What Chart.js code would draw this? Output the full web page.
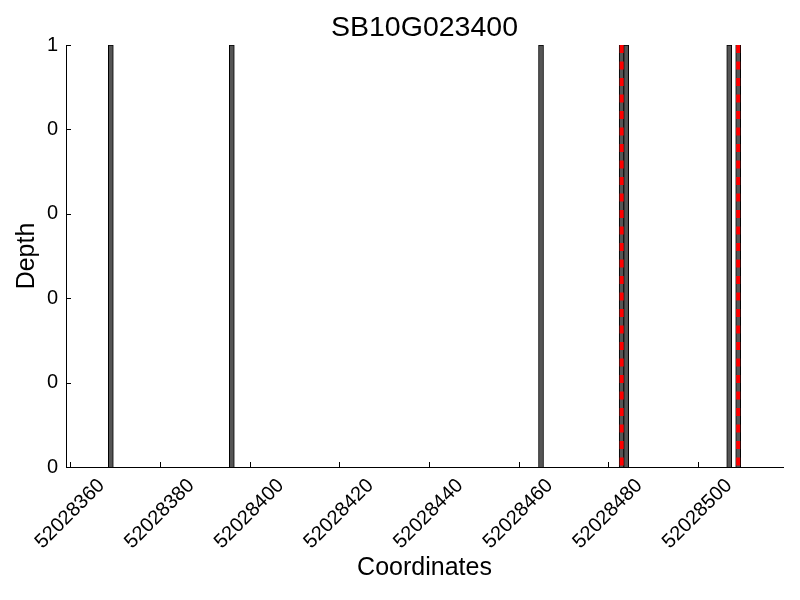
<!DOCTYPE html>
<html lang="en">
<head>
    <meta charset="UTF-8">
    <title>SB10G023400</title>
    <script src="https://cdn.jsdelivr.net/npm/chart.js"></script>
    <style>
        html, body { margin: 0; padding: 0; background: #fff; overflow: hidden; }
    </style>
</head>
<body>
    <canvas id="myChart" width="800" height="600"></canvas>
<script>
    // dados
    const coordenadas = [52028369, 52028396, 52028465, 52028483, 52028484, 52028507, 52028509];
    const profundidade = [1, 1, 1, 1, 1, 1, 1];
    const destacadas = [52028483, 52028509];

    const xTicks = [52028360, 52028380, 52028400, 52028420, 52028440, 52028460, 52028480, 52028500];
    const xTickLabels = ['52028360', '52028380', '52028400', '52028420', '52028440', '52028460', '52028480', '52028500'];
    const yTicks = [0, 0.2, 0.4, 0.6, 0.8, 1];
    const yTickLabels = ['0', '0', '0', '0', '0', '1'];

    const titulo = 'SB10G023400';
    const fonte = 'Liberation Sans, Arial, sans-serif';

    // pontos da linha tracejada vermelha (quebra com null entre cada uma)
    var linhas = [];
    for (var i = 0; i < destacadas.length; i++) {
        linhas.push({ x: destacadas[i], y: 1 });
        linhas.push({ x: destacadas[i], y: 0 });
        linhas.push({ x: destacadas[i], y: null });
    }

    // ticks para dentro e titulo centrado sobre a area do grafico
    const ticksDentro = {
        id: 'ticksDentro',
        afterDraw(chart) {
            const ctx = chart.ctx;
            const xs = chart.scales.x;
            const ys = chart.scales.y;
            const area = chart.chartArea;
            ctx.save();
            ctx.strokeStyle = '#000';
            ctx.lineWidth = 1;
            ctx.beginPath();
            xTicks.forEach(function (v) {
                var px = Math.round(xs.getPixelForValue(v)) + 0.5;
                ctx.moveTo(px, area.bottom);
                ctx.lineTo(px, area.bottom - 5);
            });
            yTicks.forEach(function (v) {
                var py = Math.round(ys.getPixelForValue(v)) + 0.5;
                ctx.moveTo(area.left, py);
                ctx.lineTo(area.left + 5, py);
            });
            ctx.stroke();

            ctx.fillStyle = '#000';
            ctx.font = '28.5px ' + fonte;
            ctx.textAlign = 'center';
            ctx.textBaseline = 'middle';
            ctx.fillText(titulo, (area.left + area.right) / 2, 28);
            ctx.restore();
        }
    };

    const config = {
        type: 'bar',
        data: {
            datasets: [{
                type: 'bar',
                label: 'Depth',
                data: coordenadas.map(function (c, i) { return { x: c, y: profundidade[i] }; }),
                backgroundColor: '#555555',
                borderColor: '#000000',
                borderWidth: 1,
                barThickness: 5,
                order: 2
            }, {
                type: 'scatter',
                label: 'destaque',
                data: linhas,
                showLine: true,
                spanGaps: false,
                borderColor: '#ff0000',
                borderWidth: 4,
                borderDash: [8, 8.5],
                borderCapStyle: 'butt',
                pointRadius: 0,
                order: 1
            }]
        },
        options: {
            responsive: false,
            animation: false,
            devicePixelRatio: 1,
            layout: { padding: { left: 0, right: 17, top: 45, bottom: 0 } },
            plugins: {
                legend: { display: false },
                tooltip: { enabled: false },
                title: { display: false }
            },
            scales: {
                x: {
                    type: 'linear',
                    min: 52028359,
                    max: 52028519,
                    offset: false,
                    grid: { display: false, drawTicks: false },
                    border: { display: true, color: '#000', width: 1 },
                    afterBuildTicks: function (scale) {
                        scale.ticks = xTicks.map(function (v) { return { value: v }; });
                    },
                    afterFit: function (scale) { scale.height = 133; },
                    ticks: {
                        autoSkip: false,
                        minRotation: 45,
                        maxRotation: 45,
                        labelOffset: 31,
                        padding: 7,
                        color: '#000',
                        font: { family: fonte, size: 20 },
                        callback: function (v, i) { return xTickLabels[i]; }
                    },
                    title: {
                        display: true,
                        text: 'Coordinates',
                        color: '#000',
                        font: { family: fonte, size: 25 },
                        padding: { top: 0, bottom: 17 }
                    }
                },
                y: {
                    min: 0,
                    max: 1,
                    grid: { display: false, drawTicks: false },
                    border: { display: true, color: '#000', width: 1 },
                    afterBuildTicks: function (scale) {
                        scale.ticks = yTicks.map(function (v) { return { value: v }; });
                    },
                    afterFit: function (scale) { scale.width = 66; },
                    ticks: {
                        padding: 8,
                        color: '#000',
                        font: { family: fonte, size: 20 },
                        callback: function (v, i) { return yTickLabels[i]; }
                    },
                    title: {
                        display: true,
                        text: 'Depth',
                        color: '#000',
                        font: { family: fonte, size: 25 },
                        padding: { top: 12, bottom: 0 }
                    }
                }
            }
        },
        plugins: [ticksDentro]
    };

    let myChart = new Chart(document.getElementById('myChart').getContext('2d'), config);
</script>
</body>
</html>
